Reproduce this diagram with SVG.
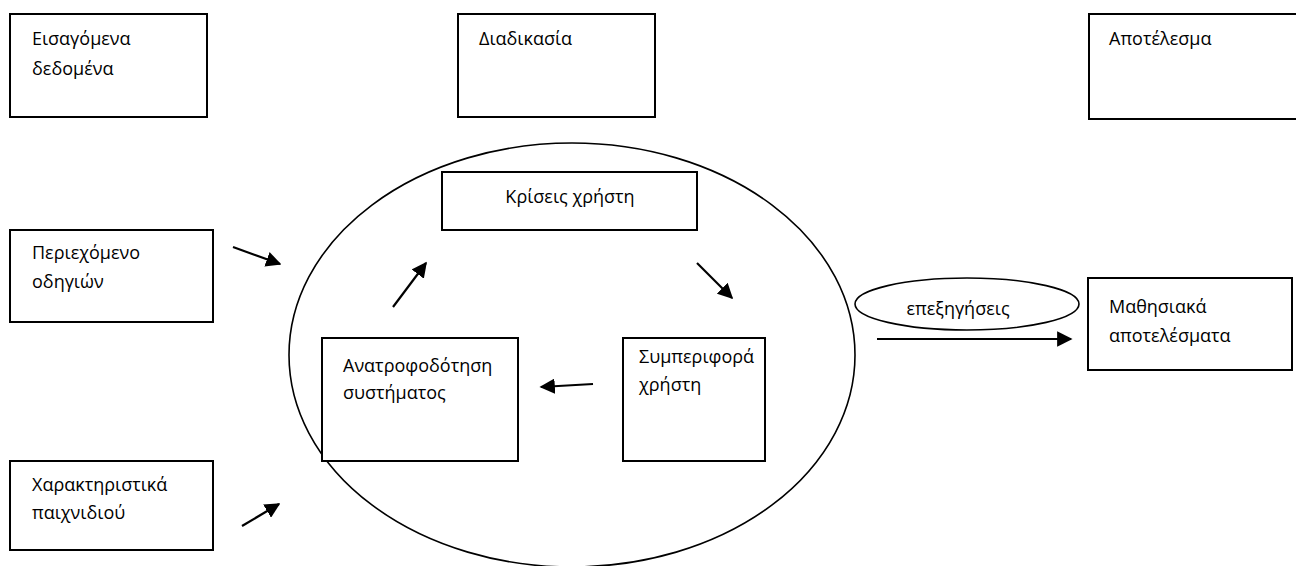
<svg xmlns="http://www.w3.org/2000/svg" width="1296" height="566" viewBox="0 0 1296 566">
  <style>
    .box { fill: #fff; stroke: #000; stroke-width: 2; }
    .oval { fill: none; stroke: #000; stroke-width: 1.6; }
    .lbl { font-family: "Open Sans", "Noto Sans", "DejaVu Sans", sans-serif; font-size: 18px; fill: #000; }
    .mid { text-anchor: middle; }
    .arr { stroke: #000; stroke-width: 2.2; fill: none; marker-end: url(#head); }
  </style>
  <defs>
    <marker id="head" viewBox="0 0 10 10" refX="9" refY="5" markerWidth="7" markerHeight="7" markerUnits="strokeWidth" orient="auto">
      <path d="M0,0 L10,5 L0,10 z" fill="#000"/>
    </marker>
  </defs>
  <rect width="1296" height="566" fill="#fff"/>

  <!-- column headers -->
  <g id="input-header">
    <rect class="box" x="10" y="14" width="197" height="103"/>
    <text class="lbl" x="32" y="45">Εισαγόμενα</text>
    <text class="lbl" x="32" y="75">δεδομένα</text>
  </g>
  <g id="process-header">
    <rect class="box" x="458" y="14" width="197" height="103"/>
    <text class="lbl" x="479" y="45">Διαδικασία</text>
  </g>
  <g id="output-header">
    <rect class="box" x="1089" y="14" width="220" height="105"/>
    <text class="lbl" x="1109" y="45">Αποτέλεσμα</text>
  </g>

  <!-- inputs -->
  <g id="instructions">
    <rect class="box" x="10" y="230" width="203" height="92"/>
    <text class="lbl" x="32" y="259">Περιεχόμενο</text>
    <text class="lbl" x="32" y="288">οδηγιών</text>
  </g>
  <g id="game-features">
    <rect class="box" x="10" y="461" width="203" height="89"/>
    <text class="lbl" x="32" y="491">Χαρακτηριστικά</text>
    <text class="lbl" x="32" y="519">παιχνιδιού</text>
  </g>

  <!-- process cycle -->
  <g id="process-cycle">
    <ellipse class="oval" cx="572" cy="355" rx="283" ry="212"/>
  </g>
  <g id="user-judgements">
    <rect class="box" x="442" y="172" width="255" height="58"/>
    <text class="lbl mid" x="570" y="203">Κρίσεις χρήστη</text>
  </g>
  <g id="system-feedback">
    <rect class="box" x="322" y="338" width="196" height="123"/>
    <text class="lbl" x="343" y="372">Ανατροφοδότηση</text>
    <text class="lbl" x="343" y="399">συστήματος</text>
  </g>
  <g id="user-behaviour">
    <rect class="box" x="623" y="338" width="142" height="123"/>
    <text class="lbl" x="639" y="363">Συμπεριφορά</text>
    <text class="lbl" x="639" y="391">χρήστη</text>
  </g>

  <!-- outcome -->
  <g id="explanations">
    <ellipse class="oval" cx="967" cy="304" rx="112" ry="26"/>
    <text class="lbl mid" x="958" y="315">επεξηγήσεις</text>
  </g>
  <g id="learning-outcomes">
    <rect class="box" x="1088" y="278" width="204" height="92"/>
    <text class="lbl" x="1109" y="313">Μαθησιακά</text>
    <text class="lbl" x="1109" y="342">αποτελέσματα</text>
  </g>

  <g id="connectors">
    <line class="arr" x1="233" y1="247" x2="280" y2="264"/>
    <line class="arr" x1="242" y1="526" x2="279" y2="504"/>
    <line class="arr" x1="393" y1="307" x2="426" y2="263"/>
    <line class="arr" x1="697" y1="263" x2="732" y2="298"/>
    <line class="arr" x1="593" y1="384" x2="541" y2="387"/>
    <line class="arr" x1="877" y1="339" x2="1071" y2="339"/>
  </g>
</svg>
